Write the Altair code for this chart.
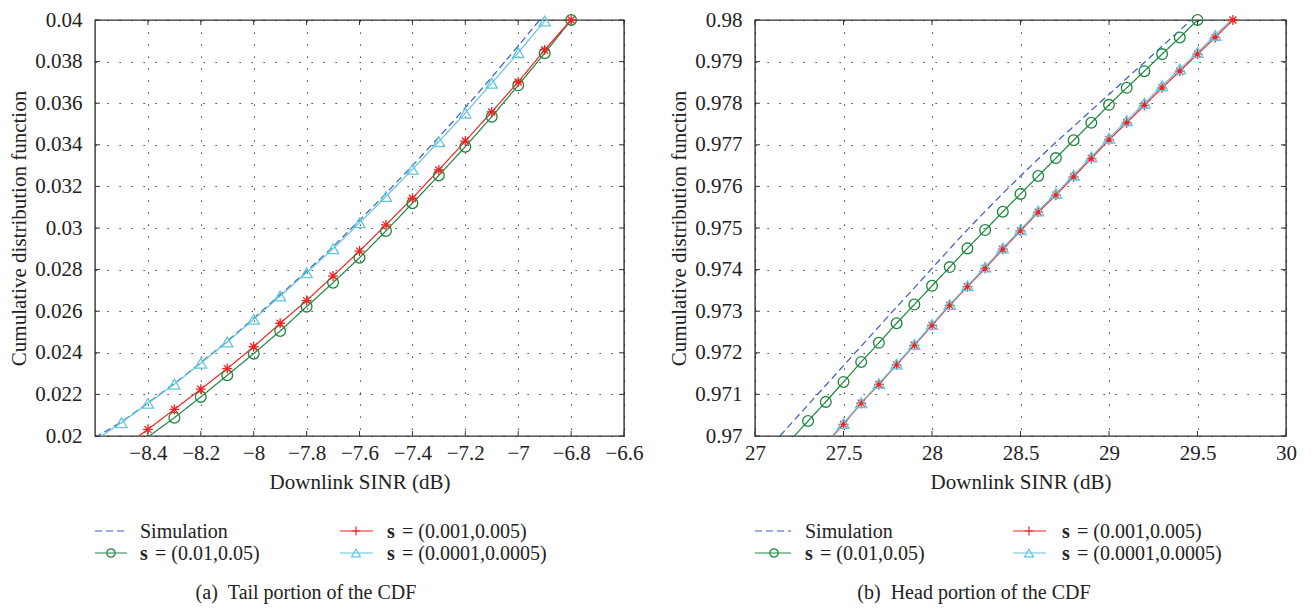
import altair as alt
import pandas as pd

FONT = "Liberation Serif"
SERIES = ["Simulation", "s = (0.01,0.05)", "s = (0.001,0.005)", "s = (0.0001,0.0005)"]
COLORS = ["#3c5bbf", "#1b873c", "#f02424", "#62c6dc"]
ASTER = "M-1,0L1,0M0,-1L0,1M-0.7,-0.7L0.7,0.7M-0.7,0.7L0.7,-0.7"
PLUS = "M-1,0L1,0M0,-1L0,1"

# ---------------- (a) tail portion ----------------
tail_sim_x = [-8.6, -8.5, -8.4, -8.3, -8.2, -8.1, -8.0, -7.9, -7.8, -7.7, -7.6, -7.5, -7.4, -7.3, -7.2, -7.1, -7.0, -6.9]
tail_sim_y = [0.01993, 0.02067, 0.02159, 0.02252, 0.02353, 0.02456, 0.02566, 0.02679, 0.02792, 0.02910,
              0.03037, 0.03166, 0.03300, 0.03437, 0.03578, 0.03725, 0.03875, 0.04030]
tail_green_x = [-8.4, -8.3, -8.2, -8.1, -8.0, -7.9, -7.8, -7.7, -7.6, -7.5, -7.4, -7.3, -7.2, -7.1, -7.0, -6.9, -6.8]
tail_green_y = [0.01995, 0.02088, 0.02188, 0.02292, 0.02396, 0.02505, 0.02622, 0.02737, 0.02857, 0.02986,
                0.03119, 0.03253, 0.03391, 0.03535, 0.03686, 0.03840, 0.04000]
tail_red_x = [-8.5, -8.4, -8.3, -8.2, -8.1, -8.0, -7.9, -7.8, -7.7, -7.6, -7.5, -7.4, -7.3, -7.2, -7.1, -7.0, -6.9, -6.8]
tail_red_y = [0.01940, 0.02032, 0.02128, 0.02225, 0.02324, 0.02429, 0.02542, 0.02651, 0.02769, 0.02889,
              0.03015, 0.03143, 0.03279, 0.03418, 0.03558, 0.03702, 0.03856, 0.04000]
tail_cyan_x = [-8.6, -8.5, -8.4, -8.3, -8.2, -8.1, -8.0, -7.9, -7.8, -7.7, -7.6, -7.5, -7.4, -7.3, -7.2, -7.1, -7.0, -6.9]
tail_cyan_y = [0.01979, 0.02064, 0.02157, 0.02249, 0.02350, 0.02452, 0.02561, 0.02673, 0.02785, 0.02900,
               0.03025, 0.03151, 0.03282, 0.03415, 0.03552, 0.03696, 0.03843, 0.03995]
tail_xticks = [-8.4, -8.2, -8.0, -7.8, -7.6, -7.4, -7.2, -7.0, -6.8, -6.6]
tail_yticks = [0.020, 0.022, 0.024, 0.026, 0.028, 0.030, 0.032, 0.034, 0.036, 0.038, 0.040]

# ---------------- (b) head portion ----------------
head_sim_x = [27.1, 27.2, 27.3, 27.4, 27.5, 27.6, 27.7, 27.8, 27.9, 28.0, 28.1, 28.2, 28.3,
              28.4, 28.5, 28.6, 28.7, 28.8, 28.9, 29.0, 29.1, 29.2, 29.3, 29.4, 29.5]
head_sim_y = [0.96981, 0.97028, 0.97075, 0.97122, 0.97169, 0.97216, 0.97263, 0.97310, 0.97356, 0.97403,
              0.97450, 0.97496, 0.97540, 0.97583, 0.97625, 0.97666, 0.97706, 0.97744, 0.97783, 0.97821,
              0.97860, 0.97898, 0.97937, 0.97975, 0.98014]
head_green_x = [27.2, 27.3, 27.4, 27.5, 27.6, 27.7, 27.8, 27.9, 28.0, 28.1, 28.2, 28.3,
                28.4, 28.5, 28.6, 28.7, 28.8, 28.9, 29.0, 29.1, 29.2, 29.3, 29.4, 29.5]
head_green_y = [0.96990, 0.97036, 0.97082, 0.97130, 0.97178, 0.97224, 0.97271, 0.97316, 0.97361, 0.97406,
                0.97451, 0.97495, 0.97539, 0.97582, 0.97625, 0.97668, 0.97711, 0.97753, 0.97796, 0.97837,
                0.97877, 0.97918, 0.97958, 0.98000]
head_red_x = [27.4, 27.5, 27.6, 27.7, 27.8, 27.9, 28.0, 28.1, 28.2, 28.3, 28.4, 28.5,
              28.6, 28.7, 28.8, 28.9, 29.0, 29.1, 29.2, 29.3, 29.4, 29.5, 29.6, 29.7]
head_red_y = [0.96982, 0.97028, 0.97079, 0.97124, 0.97171, 0.97218, 0.97266, 0.97314, 0.97359, 0.97403,
              0.97449, 0.97493, 0.97538, 0.97579, 0.97623, 0.97667, 0.97712, 0.97753, 0.97795, 0.97837,
              0.97877, 0.97918, 0.97958, 0.98000]
head_cyan_x = [27.4, 27.5, 27.6, 27.7, 27.8, 27.9, 28.0, 28.1, 28.2, 28.3, 28.4, 28.5,
               28.6, 28.7, 28.8, 28.9, 29.0, 29.1, 29.2, 29.3, 29.4, 29.5, 29.6, 29.7]
head_cyan_y = [0.96984, 0.97030, 0.97080, 0.97126, 0.97173, 0.97220, 0.97268, 0.97316, 0.97361, 0.97406,
               0.97452, 0.97496, 0.97541, 0.97583, 0.97627, 0.97671, 0.97716, 0.97758, 0.97800, 0.97842,
               0.97882, 0.97922, 0.97963, 0.98004]
head_xticks = [27.0, 27.5, 28.0, 28.5, 29.0, 29.5, 30.0]
head_yticks = [0.970, 0.971, 0.972, 0.973, 0.974, 0.975, 0.976, 0.977, 0.978, 0.979, 0.980]

CAPTIONS = ["(a)\u00a0\u00a0Tail portion of the CDF", "(b)\u00a0\u00a0Head portion of the CDF"]


def long_df(pairs):
    rows = []
    for name, xs, ys in pairs:
        for a, b in zip(xs, ys):
            rows.append({"series": name, "x": a, "y": b})
    return pd.DataFrame(rows)


def panel(df, xdom, ydom, xticks, yticks, yfmt, W, H, leg, caption, cap_x, red_marker):
    xs = alt.Scale(domain=xdom, nice=False, zero=False)
    ys = alt.Scale(domain=ydom, nice=False, zero=False)
    xaxis = alt.Axis(values=xticks, format=".1~f", title="Downlink SINR (dB)", grid=True,
                     ticks=False, tickSize=0, domain=False, labelPadding=6, labelFlush=False,
                     titleBaseline="alphabetic", titleY=52)
    yaxis = alt.Axis(values=yticks, format=yfmt, title="Cumulative distribution function", grid=True,
                     ticks=False, tickSize=0, domain=False, labelPadding=13, labelFlush=False,
                     titleBaseline="alphabetic", titleX=-70, titleAngle=270)
    X = alt.X("x:Q", scale=xs, axis=xaxis)
    Y = alt.Y("y:Q", scale=ys, axis=yaxis)
    color = alt.Color("series:N", scale=alt.Scale(domain=SERIES, range=COLORS), legend=None)
    dash = alt.StrokeDash("series:N", scale=alt.Scale(domain=SERIES, range=[[7, 4], [1, 0], [1, 0], [1, 0]]),
                          legend=None)
    layers = []
    # inward tick marks
    xt = pd.DataFrame({"x": xticks})
    yt = pd.DataFrame({"y": yticks})
    tick_style = dict(color="#333", strokeWidth=1)
    layers.append(alt.Chart(xt).mark_rule(**tick_style).encode(x=X, y=alt.value(H), y2=alt.value(H - 5)))
    layers.append(alt.Chart(xt).mark_rule(**tick_style).encode(x=X, y=alt.value(0), y2=alt.value(5)))
    layers.append(alt.Chart(yt).mark_rule(**tick_style).encode(y=Y, x=alt.value(0), x2=alt.value(5)))
    layers.append(alt.Chart(yt).mark_rule(**tick_style).encode(y=Y, x=alt.value(W), x2=alt.value(W - 5)))

    layers.append(alt.Chart(df).mark_line(clip=True, strokeWidth=1.2).encode(x=X, y=Y, color=color, strokeDash=dash))

    filt = (f"datum.y >= {ydom[0]} && datum.y <= {ydom[1]} && "
            f"datum.x >= {xdom[0]} && datum.x <= {xdom[1]}")
    shapes = {SERIES[1]: ("circle", 115), SERIES[2]: (red_marker, 100), SERIES[3]: ("triangle-up", 125)}
    for s in SERIES[1:]:
        shp, sz = shapes[s]
        layers.append(
            alt.Chart(df).transform_filter(f"datum.series == '{s}'").transform_filter(filt)
            .mark_point(filled=False, strokeWidth=1.3, shape=shp, size=sz, opacity=1)
            .encode(x=X, y=Y, color=color)
        )

    # legend (drawn below the axes)
    (c1_l0, c1_l1, c1_m, c1_t), (c2_l0, c2_l1, c2_m, c2_t) = leg
    rows_y = [511, 533]
    text_y = [518, 540]
    entries = [(SERIES[0], 0, 0, None), (SERIES[1], 0, 1, ("circle", 70)),
               (SERIES[2], 1, 0, (PLUS, 80)), (SERIES[3], 1, 1, ("triangle-up", 80))]
    one = pd.DataFrame({"k": [0]})
    for name, col, row, mk in entries:
        l0, l1, m, t = (c1_l0, c1_l1, c1_m, c1_t) if col == 0 else (c2_l0, c2_l1, c2_m, c2_t)
        ci = COLORS[SERIES.index(name)]
        rule = alt.Chart(one).mark_rule(color=ci, strokeWidth=1.2,
                                        strokeDash=[7, 4] if name == "Simulation" else [1, 0])
        layers.append(rule.encode(x=alt.value(l0), x2=alt.value(l1), y=alt.value(rows_y[row])))
        if mk is not None:
            layers.append(alt.Chart(one).mark_point(filled=False, shape=mk[0], size=mk[1], color=ci,
                                                    strokeWidth=1.2, opacity=1)
                          .encode(x=alt.value(m), y=alt.value(rows_y[row])))
        if name == "Simulation":
            layers.append(alt.Chart(one).mark_text(align="left", baseline="alphabetic", font=FONT,
                                                   fontSize=20, color="#222")
                          .encode(x=alt.value(t), y=alt.value(text_y[row]), text=alt.value(name)))
        else:
            layers.append(alt.Chart(one).mark_text(align="left", baseline="alphabetic", font=FONT,
                                                   fontSize=20, fontWeight="bold", color="#222")
                          .encode(x=alt.value(t), y=alt.value(text_y[row]), text=alt.value("s")))
            layers.append(alt.Chart(one).mark_text(align="left", baseline="alphabetic", font=FONT,
                                                   fontSize=20, color="#222")
                          .encode(x=alt.value(t + 15), y=alt.value(text_y[row]),
                                  text=alt.value(name[2:])))
    layers.append(alt.Chart(one).mark_text(align="center", baseline="alphabetic", font=FONT,
                                           fontSize=20, color="#222")
                  .encode(x=alt.value(cap_x), y=alt.value(579), text=alt.value(caption)))
    return alt.layer(*layers).properties(width=W, height=H)


tail_df = long_df([(SERIES[0], tail_sim_x, tail_sim_y), (SERIES[1], tail_green_x, tail_green_y),
                   (SERIES[2], tail_red_x, tail_red_y), (SERIES[3], tail_cyan_x, tail_cyan_y)])
head_df = long_df([(SERIES[0], head_sim_x, head_sim_y), (SERIES[1], head_green_x, head_green_y),
                   (SERIES[2], head_red_x, head_red_y), (SERIES[3], head_cyan_x, head_cyan_y)])

left = panel(tail_df, [-8.6, -6.6], [0.02, 0.04], tail_xticks, tail_yticks, ".3~f", 529, 416,
             [(0, 32, 16, 45), (245, 278, 261, 292)], CAPTIONS[0], 211, ASTER)
right = panel(head_df, [27.0, 30.0], [0.97, 0.98], head_xticks, head_yticks, ".3~f", 531, 416,
              [(0, 36, 19, 50), (258, 291, 274, 307)], CAPTIONS[1], 219, ASTER)

chart = (
    alt.hconcat(left, right, spacing=23)
    .properties(padding={"left": -1, "top": 0, "right": 0, "bottom": 0})
    .configure_view(stroke="#333", strokeWidth=1.4)
    .configure_axis(labelFont=FONT, titleFont=FONT, labelFontSize=21, titleFontSize=21,
                    labelColor="#222", titleColor="#222", titleFontWeight="normal",
                    gridColor="#111", gridDash=[1.3, 10.7], gridWidth=1.1, gridOpacity=0.9)
)

chart.save("out.html", embed_options={"renderer": "svg", "actions": False})
